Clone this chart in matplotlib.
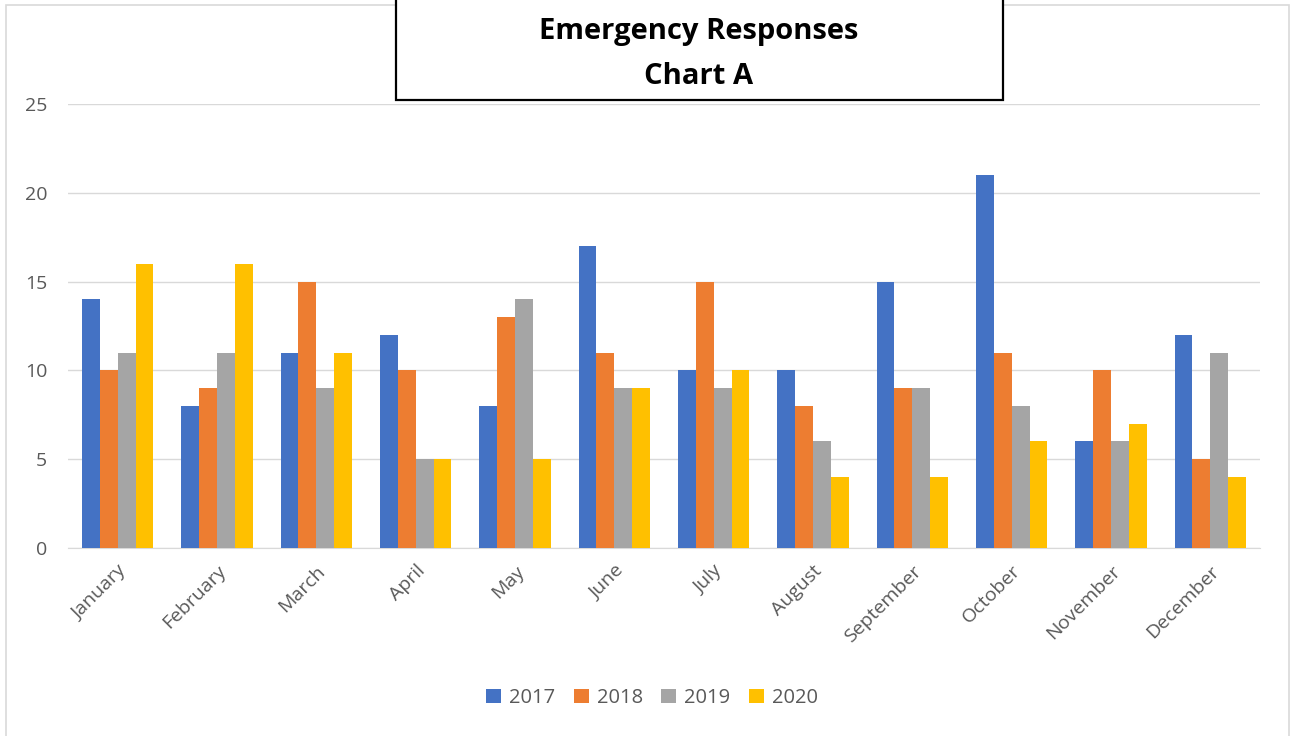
import matplotlib.pyplot as plt
import matplotlib.patches as mpatches
import numpy as np

months = ['January', 'February', 'March', 'April', 'May', 'June', 'July',
          'August', 'September', 'October', 'November', 'December']
y2017 = [14, 8, 11, 12, 8, 17, 10, 10, 15, 21, 6, 12]
y2018 = [10, 9, 15, 10, 13, 11, 15, 8, 9, 11, 10, 5]
y2019 = [11, 11, 9, 5, 14, 9, 9, 6, 9, 8, 6, 11]
y2020 = [16, 16, 11, 5, 5, 9, 10, 4, 4, 6, 7, 4]
years = ['2017', '2018', '2019', '2020']
colors = ['#4472C4', '#ED7D31', '#A5A5A5', '#FFC000']

plt.rcParams['font.family'] = ['Open Sans', 'DejaVu Sans']

fig = plt.figure(figsize=(12.91, 7.36), dpi=100)
ax = fig.add_axes([68 / 1291, 1 - 548 / 736, (1260 - 68) / 1291, (548 - 104) / 736])

x = np.arange(len(months))
w = 0.18
for i, (vals, lab, c) in enumerate(zip([y2017, y2018, y2019, y2020], years, colors)):
    ax.bar(x + (i - 1.5) * w, vals, width=w, color=c, label=lab, zorder=3)

ax.set_xlim(-0.5, len(months) - 0.5)
ax.set_ylim(0, 25)
ax.set_yticks(range(0, 26, 5))
ax.grid(axis='y', color='#d9d9d9', linewidth=1, zorder=0)
for s in ['top', 'right', 'left']:
    ax.spines[s].set_visible(False)
ax.spines['bottom'].set_color('#d9d9d9')
ax.tick_params(axis='both', length=0, labelsize=14, colors='#595959')
ax.tick_params(axis='y', pad=15)
ax.tick_params(axis='x', pad=10)
ax.set_xticks(x)
ax.set_xticklabels(months, rotation=45, ha='right', rotation_mode='anchor')

ax.legend(loc='center', bbox_to_anchor=(652 / 1291, (736 - 698) / 736), bbox_transform=fig.transFigure,
          ncol=4, frameon=False, fontsize=14.5, handlelength=0.75, handleheight=0.75,
          handletextpad=0.4, columnspacing=0.9, labelcolor='#595959')

# outer chart border
fig.patches.append(mpatches.Rectangle((6 / 1291, -0.1), (1289 - 6) / 1291, 1.1 - 5 / 736,
                                      transform=fig.transFigure, fill=False,
                                      edgecolor='#d9d9d9', linewidth=1.2))
# title box
fig.patches.append(mpatches.Rectangle((396 / 1291, 1 - 100 / 736), (1003 - 396) / 1291, 0.2,
                                      transform=fig.transFigure, facecolor='white',
                                      edgecolor='black', linewidth=1.6, zorder=5))
fig.text(699 / 1291, 1 - 32 / 736, 'Emergency Responses', ha='center', va='center',
         fontsize=21, fontweight='bold', zorder=6)
fig.text(699 / 1291, 1 - 77 / 736, 'Chart A', ha='center', va='center',
         fontsize=21, fontweight='bold', zorder=6)

plt.savefig('out.png', dpi=100)
